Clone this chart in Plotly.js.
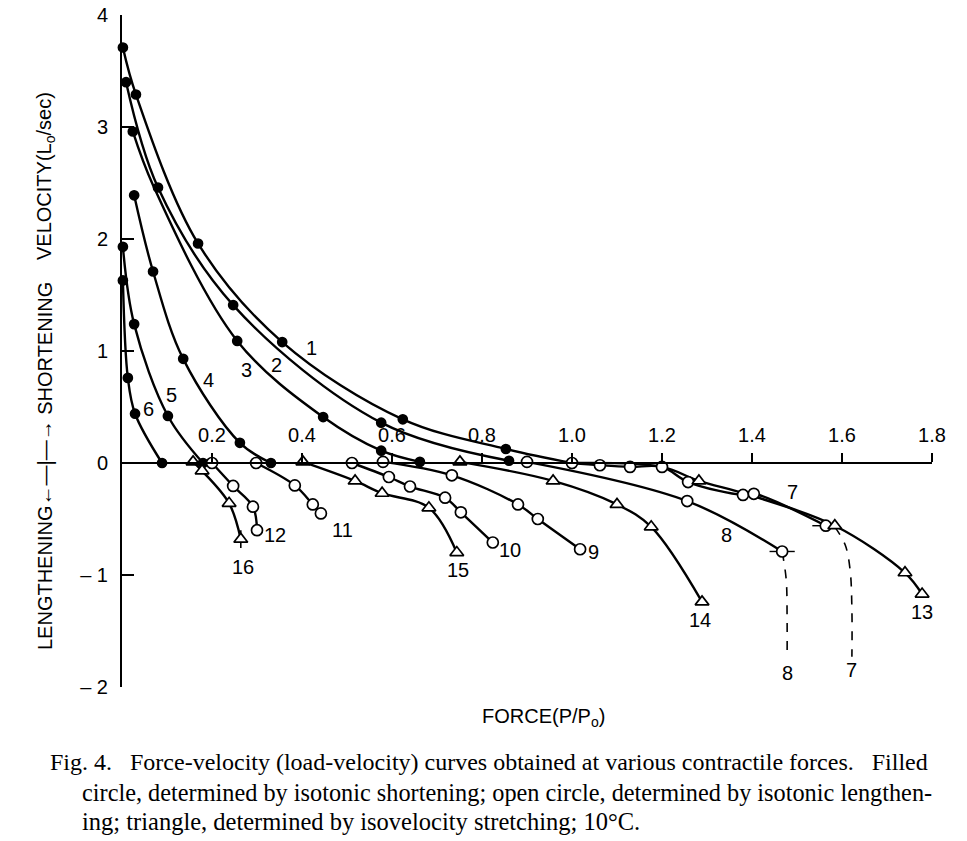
<!DOCTYPE html>
<html><head><meta charset="utf-8">
<script src="https://cdn.plot.ly/plotly-3.0.1.min.js"></script>
<style>html,body{margin:0;padding:0;background:#fff}</style>
</head><body><div id="chart" style="width:967px;height:841px"></div>
<script>
// Force (P/Po) and velocity (Lo/sec).
// Marker kind: S = isotonic shortening (filled circle), L = isotonic lengthening (open circle),
// V = isovelocity stretching (triangle), N = curve point without a marker.
const c1x=[0.002,0.031,0.169,0.356,0.624,0.853,1.0];
const c1y=[3.71,3.29,1.96,1.08,0.39,0.125,0.0];
const c1k=['S','S','S','S','S','S','N'];
const c2x=[0.009,0.08,0.247,0.576,0.86];
const c2y=[3.40,2.46,1.41,0.36,0.02];
const c2k=['S','S','S','S','S'];
const c3x=[0.024,0.069,0.256,0.447,0.576,0.662];
const c3y=[2.96,2.48,1.09,0.41,0.11,0.01];
const c3k=['S','N','S','S','S','S'];
const c4x=[0.027,0.069,0.136,0.262,0.331];
const c4y=[2.39,1.71,0.93,0.18,0.0];
const c4k=['S','S','S','S','S'];
const c5x=[0.002,0.027,0.102,0.18];
const c5y=[1.93,1.24,0.42,0.0];
const c5k=['S','S','S','S'];
const c6x=[0.002,0.013,0.029,0.089];
const c6y=[1.63,0.76,0.44,0.0];
const c6k=['S','S','S','S'];
const c7x=[1.0,1.062,1.129,1.2,1.258,1.38,1.404,1.564];
const c7y=[0.0,-0.02,-0.035,-0.035,-0.17,-0.285,-0.275,-0.56];
const c7k=['L','L','L','L','L','L','L','L'];
const c7e=[0,0,0,0,0,0,0,0.03];
const c8x=[0.9,1.256,1.467];
const c8y=[0.01,-0.34,-0.79];
const c8k=['L','L','L'];
const c8e=[0,0,0.028];
const c9x=[0.58,0.733,0.88,0.924,1.018];
const c9y=[0.01,-0.11,-0.37,-0.50,-0.77];
const c9k=['L','L','L','L','L'];
const c10x=[0.511,0.593,0.64,0.718,0.753,0.824];
const c10y=[0.0,-0.125,-0.21,-0.31,-0.44,-0.71];
const c10k=['L','L','L','L','L','L'];
const c11x=[0.298,0.384,0.424,0.442];
const c11y=[0.0,-0.20,-0.37,-0.45];
const c11k=['L','L','L','L'];
const c12x=[0.2,0.247,0.291,0.3];
const c12y=[0.0,-0.205,-0.39,-0.60];
const c12k=['L','L','L','L'];
const c13x=[1.0,1.2,1.282,1.39,1.584,1.74,1.778];
const c13y=[0.0,-0.035,-0.16,-0.28,-0.56,-0.98,-1.17];
const c13k=['N','N','V','N','V','V','V'];
const c14x=[0.751,0.958,1.1,1.176,1.289];
const c14y=[0.01,-0.16,-0.37,-0.57,-1.24];
const c14k=['V','V','V','V','V'];
const c15x=[0.402,0.518,0.578,0.682,0.744];
const c15y=[0.01,-0.16,-0.27,-0.40,-0.80];
const c15k=['V','V','V','V','V'];
const c16x=[0.158,0.178,0.238,0.264];
const c16y=[0.01,-0.07,-0.36,-0.68];
const c16k=['V','V','V','V'];
const c16e=[0,0,0,0.08];
// dashed continuations of curves 7 and 8
const d7x=[1.584,1.607,1.618,1.622,1.622];
const d7y=[-0.57,-0.73,-0.955,-1.31,-1.73];
const d8x=[1.467,1.476,1.478,1.478];
const d8y=[-0.79,-1.04,-1.40,-1.73];
// curve number labels
const labelText=['1','2','3','4','5','6','7','8','8','7','9','10','11','12','13','14','15','16'];
const labelX=[0.422,0.344,0.276,0.193,0.111,0.058,1.491,1.344,1.478,1.622,1.047,0.862,0.491,0.34,1.778,1.284,0.747,0.269];
const labelY=[1.03,0.875,0.83,0.74,0.61,0.48,-0.26,-0.64,-1.875,-1.85,-0.795,-0.78,-0.60,-0.64,-1.33,-1.40,-0.955,-0.93];
// tick labels
const xTickVals=[0.2,0.4,0.6,0.8,1.0,1.2,1.4,1.6,1.8];
const xTickText=['0.2','0.4','0.6','0.8','1.0','1.2','1.4','1.6','1.8'];
const yTickVals=[-2,-1,0,1,2,3,4];
const yTickText=['\u2013 2','\u2013 1','0','1','2','3','4'];

const SANS='"Liberation Sans",Arial,sans-serif';
const SERIF='"Liberation Serif","DejaVu Serif",serif';

const curves=[
 {x:c1x,y:c1y,k:c1k},{x:c2x,y:c2y,k:c2k},{x:c3x,y:c3y,k:c3k},{x:c4x,y:c4y,k:c4k},
 {x:c5x,y:c5y,k:c5k},{x:c6x,y:c6y,k:c6k},{x:c7x,y:c7y,k:c7k,ex:c7e},{x:c8x,y:c8y,k:c8k,ex:c8e},
 {x:c9x,y:c9y,k:c9k},{x:c10x,y:c10y,k:c10k},{x:c11x,y:c11y,k:c11k},{x:c12x,y:c12y,k:c12k},
 {x:c13x,y:c13y,k:c13k},{x:c14x,y:c14y,k:c14k},{x:c15x,y:c15y,k:c15k},{x:c16x,y:c16y,k:c16k,ey:c16e}
];
const sym={S:'circle',L:'circle',V:'triangle-up',N:'circle'};
const fill={S:'#000000',L:'#ffffff',V:'#ffffff',N:'rgba(0,0,0,0)'};
const size={S:9,L:11,V:12,N:0};

const traces=[];
curves.forEach(c=>{
  traces.push({x:c.x,y:c.y,mode:'lines',type:'scatter',cliponaxis:false,hoverinfo:'skip',
    line:{color:'black',width:2.4,shape:'spline',smoothing:1}});
});
[[d7x,d7y],[d8x,d8y]].forEach(d=>{
  traces.push({x:d[0],y:d[1],mode:'lines',type:'scatter',cliponaxis:false,hoverinfo:'skip',
    line:{color:'black',width:1.6,dash:'dash',shape:'spline',smoothing:1}});
});
curves.forEach(c=>{
  const t={x:c.x,y:c.y,mode:'markers',type:'scatter',cliponaxis:false,hoverinfo:'skip',
    marker:{symbol:c.k.map(k=>sym[k]),color:c.k.map(k=>fill[k]),size:c.k.map(k=>size[k]),opacity:1,
      line:{color:c.k.map(k=>k==='N'?'rgba(0,0,0,0)':'black'),width:1.7}}};
  if(c.ex) t.error_x={type:'data',array:c.ex,visible:true,color:'black',thickness:1.4,width:0};
  if(c.ey) t.error_y={type:'data',array:c.ey,visible:true,color:'black',thickness:1.6,width:0};
  traces.push(t);
});

// pixel -> paper helpers for text placed outside the plot area
const L=122,T=15,W=810,H=672;
const px=v=>(v-L)/W, py=v=>(T+H-v)/H;
const mid={xanchor:'center',yanchor:'middle',showarrow:false};

const annotations=labelText.map((t,i)=>Object.assign({x:labelX[i],y:labelY[i],xref:'x',yref:'y',text:t,
  font:{family:SANS,size:20,color:'black'}},mid));
annotations.push(
 Object.assign({xref:'paper',yref:'paper',x:px(45),y:py(466),text:'LENGTHENING\u2190\u2014|\u2014\u2192 SHORTENING',textangle:-90,font:{family:SANS,size:20,color:'black'}},mid),
 Object.assign({xref:'paper',yref:'paper',x:px(45),y:py(176),text:'VELOCITY(L<sub>o</sub>/sec)',textangle:-90,font:{family:SANS,size:20,color:'black'}},mid),
 Object.assign({xref:'paper',yref:'paper',x:px(543),y:py(717),text:'FORCE(P/P<sub>o</sub>)',font:{family:SANS,size:20,color:'black'}},mid),
 {xref:'paper',yref:'paper',x:px(48),y:py(762),xanchor:'left',yanchor:'middle',showarrow:false,text:'Fig. 4.\u00a0\u00a0 Force-velocity (load-velocity) curves obtained at various contractile forces.\u00a0\u00a0 Filled',font:{family:SERIF,size:24,color:'black'}},
 {xref:'paper',yref:'paper',x:px(80),y:py(792),xanchor:'left',yanchor:'middle',showarrow:false,text:'circle, determined by isotonic shortening; open circle, determined by isotonic lengthen-',font:{family:SERIF,size:24.3,color:'black'}},
 {xref:'paper',yref:'paper',x:px(80),y:py(821),xanchor:'left',yanchor:'middle',showarrow:false,text:'ing; triangle, determined by isovelocity stretching; 10\u00b0C.',font:{family:SERIF,size:24.5,color:'black'}}
);

const layout={
  width:967,height:841,margin:{l:L,r:967-L-W,t:T,b:841-T-H},
  paper_bgcolor:'white',plot_bgcolor:'white',showlegend:false,
  font:{family:SANS,color:'black',size:19},
  xaxis:{range:[0,1.8],anchor:'free',position:1/3,side:'top',showline:true,linecolor:'black',linewidth:2,
    ticks:'outside',ticklen:9,tickwidth:1.5,tickcolor:'black',tickvals:xTickVals,ticktext:xTickText,
    showgrid:false,zeroline:false,tickfont:{family:SANS,size:20,color:'black'},ticklabelstandoff:3},
  yaxis:{range:[-2,4],showline:true,linecolor:'black',linewidth:2,ticks:'inside',ticklen:12,tickwidth:1.5,
    tickcolor:'black',tickvals:yTickVals,ticktext:yTickText,showgrid:false,zeroline:false,
    tickfont:{family:SANS,size:20,color:'black'},ticklabelstandoff:8},
  annotations:annotations
};
Plotly.newPlot('chart',traces,layout,{staticPlot:true,displayModeBar:false});
</script></body></html>
